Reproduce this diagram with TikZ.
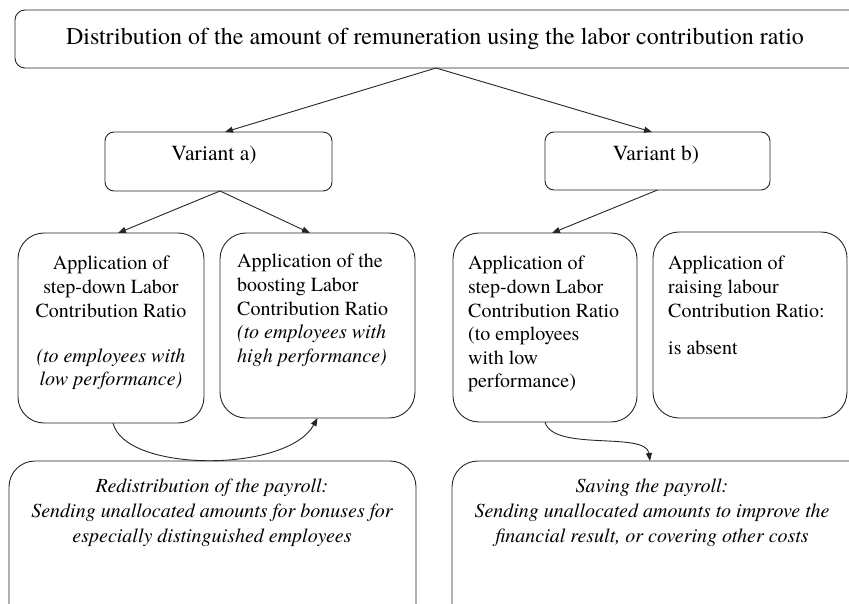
\documentclass[tikz,border=0pt]{standalone}
\usepackage{fontspec}
\IfFontExistsTF{texgyretermes-regular.otf}
  {\setmainfont{texgyretermes}[Extension=.otf, UprightFont=*-regular,
     ItalicFont=*-italic, BoldFont=*-bold, BoldItalicFont=*-bolditalic]}
  {\setmainfont{Liberation Serif}}
\usetikzlibrary{arrows.meta}
\begin{document}
\begin{tikzpicture}[x=1pt,y=-1pt,
  frame/.style={draw=black!85, line width=0.9pt, inner sep=0pt, outer sep=0pt,
    anchor=north west, rounded corners=#1},
  frame/.default=10pt,
  body/.style={inner sep=0pt, font=\rmfamily\fontsize{20}{23.6}\selectfont},
  lbl/.style={inner sep=0pt},
  arr/.style={draw=black!85, line width=0.9pt, -{Triangle[length=8pt,width=6pt]}}
]
\useasboundingbox (0,0) rectangle (849,604);
\clip (0,0) rectangle (849,604);

% boxes
\node[frame=10pt, minimum width=855pt, minimum height=58pt] (top) at (15,10) {};
\node[frame=9pt, minimum width=227pt, minimum height=59pt] (va) at (105,132) {};
\node[frame=9pt, minimum width=225pt, minimum height=58pt] (vb) at (545,132) {};
\node[frame=26pt, minimum width=186pt, minimum height=190pt] (b1) at (18,233) {};
\node[frame=26pt, minimum width=195pt, minimum height=185pt] (b2) at (220,233) {};
\node[frame=26pt, minimum width=184pt, minimum height=189pt] (b3) at (453,233) {};
\node[frame=26pt, minimum width=194pt, minimum height=186pt] (b4) at (653,232) {};
\node[frame=26pt, minimum width=407pt, minimum height=180pt] (b5) at (9,461) {};
\node[frame=26pt, minimum width=428pt, minimum height=180pt] (b6) at (452,461) {};

% texts
\node[lbl, anchor=base, font=\rmfamily\fontsize{24}{28}\selectfont] (ttop) at (435,45)
  {Distribution of the amount of remuneration using the labor contribution ratio};
\node[lbl, anchor=base, font=\rmfamily\fontsize{21.5}{26}\selectfont] (tva) at (214,161) {Variant a)};
\node[lbl, anchor=base, font=\rmfamily\fontsize{21.5}{26}\selectfont] (tvb) at (656,161) {Variant b)};

\node[body, anchor=north, align=center] (t1) at (111,256)
  {Application of\\ step-down Labor\\ Contribution Ratio\\[21.5pt]
   \textit{(to employees with}\\ \textit{low performance)}};
\node[body, anchor=north west, align=left] (t2) at (237,254)
  {Application of the\\ boosting Labor\\ Contribution Ratio\\
   \textit{(to employees with}\\ \textit{high performance)}};
\node[body, anchor=north west, align=left] (t3) at (468,256)
  {Application of\\ step-down Labor\\ Contribution Ratio\\ (to employees\\
   with low\\ performance)};
\node[body, anchor=north west, align=left] (t4) at (668,256)
  {Application of\\ raising labour\\ Contribution Ratio:\\[14pt] is absent};

\node[body, anchor=north, align=center, font=\rmfamily\itshape\fontsize{20}{25}\selectfont] (t5) at (212,479)
  {Redistribution of the payroll:\\ Sending unallocated amounts for bonuses for\\
   especially distinguished employees};
\node[body, anchor=north, align=center, font=\rmfamily\itshape\fontsize{20}{25}\selectfont] (t6) at (652,479)
  {Saving the payroll:\\ Sending unallocated amounts to improve the\\
   financial result, or covering other costs};

% connectors
\coordinate (split) at ([xshift=421pt]top.south west);
\draw[arr] (split) -- ([xshift=6.5pt]va.north);
\draw[arr] (split) -- ([xshift=-5.5pt]vb.north);
\draw[arr] ([xshift=1.5pt]va.south) -- ([xshift=7pt]b1.north);
\draw[arr] ([xshift=1.5pt]va.south) -- ([xshift=-7.5pt]b2.north);
\draw[arr] (vb.south) -- ([xshift=7pt]b3.north);
\draw[arr] ([xshift=2pt]b1.south) .. controls +(12,50) and +(-30,55) .. (b2.south);
\draw[arr] (b3.south) .. controls +(8,30) and +(-4,-30) .. ([xshift=-16pt]b6.north);
\end{tikzpicture}
\end{document}
